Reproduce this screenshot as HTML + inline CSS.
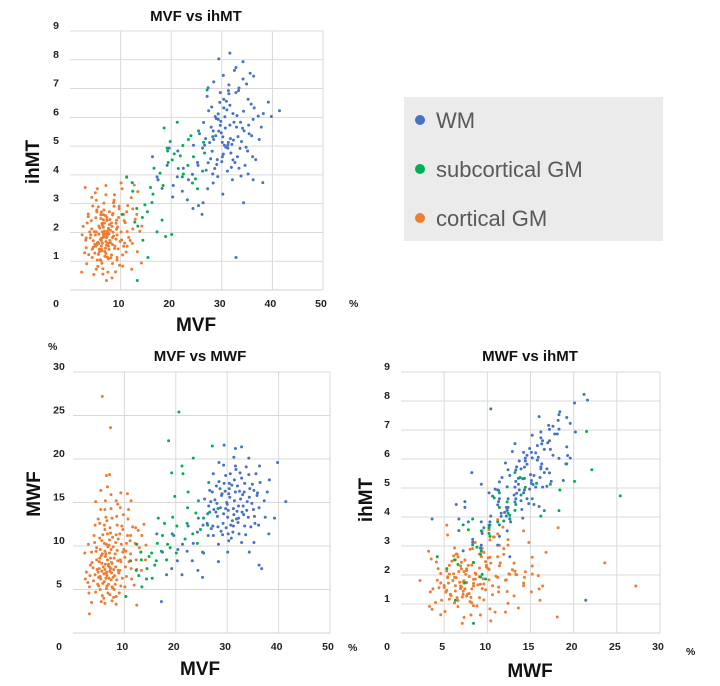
<!DOCTYPE html>
<html><head><meta charset="utf-8"><style>
body{margin:0;background:#fff;width:720px;height:686px;overflow:hidden;font-family:"Liberation Sans",sans-serif;position:relative}
svg{display:block}
.tk{font-size:10.5px;font-weight:bold;fill:#222}
.ttl{font-size:15px;font-weight:bold;fill:#111}
.ax{font-size:19px;font-weight:bold;fill:#111}
.lg{font-size:22px;fill:#595959}
</style></head><body>
<svg id="s" width="720" height="686">
<rect x="404" y="97" width="259" height="144" fill="#ebebeb"/>
<circle cx="420" cy="120" r="5" fill="#4472c4"/>
<text class="lg" x="436" y="128">WM</text>
<circle cx="420" cy="169" r="5" fill="#00b050"/>
<text class="lg" x="436" y="177">subcortical GM</text>
<circle cx="420" cy="218" r="5" fill="#ed7d31"/>
<text class="lg" x="436" y="226">cortical GM</text>
</svg>
<script>
// each point: [MVF, MWF, ihMT]
const corticalGM = [
[6.2,7.3,1.8],[7.4,6.1,2.04],[5.1,8.2,1.52],[8.3,7.6,2.21],[6.6,5.4,1.93],[7.1,9.2,1.68],[4.3,6.7,2.12],[9.2,8.4,2.43],[5.6,7.1,1.24],[6.1,10.3,2.61],
[7.7,5.2,1.41],[8.6,9.5,1.87],[3.4,7.8,2.33],[10.1,8.7,2.02],[6.4,6.3,1.63],[5.3,9.6,2.78],[7.2,12.1,1.82],[8.1,6.6,1.12],[4.6,8.4,1.71],[9.4,10.2,2.19],
[6.8,4.6,2.05],[7.3,7.4,2.52],[5.8,5.7,1.33],[8.4,11.3,1.58],[11.2,9.1,2.72],[6.3,8.8,0.93],[3.2,5.3,1.47],[7.6,13.2,2.13],[9.1,7.2,1.77],[4.2,10.4,2.41],
[10.4,6.5,1.22],[6.7,11.4,3.02],[5.4,6.2,1.04],[8.7,8.3,2.91],[7.2,4.4,1.56],[2.4,6.2,1.92],[12.1,10.3,3.21],[6.4,9.1,2.24],[9.5,12.3,1.43],[5.2,12.6,2.02],
[7.5,8.1,0.62],[4.4,4.7,1.13],[8.2,5.6,2.33],[10.6,11.2,2.63],[6.2,14.2,1.72],[11.3,7.4,1.52],[3.6,9.3,2.64],[7.1,10.7,3.31],[5.5,3.6,0.82],[9.3,5.4,1.91],
[6.9,7.7,1.34],[8.5,13.4,2.01],[4.7,7.3,0.54],[10.3,9.4,3.52],[7.8,6.4,2.72],[5.6,10.6,1.63],[12.4,7.3,2.12],[6.1,12.4,1.02],[9.7,9.3,2.82],[3.3,6.6,0.91],
[8.8,7.2,1.44],[7.3,11.5,2.42],[5.2,8.6,3.12],[11.6,12.2,1.83],[6.5,5.1,0.74],[4.1,11.2,1.92],[9.6,6.3,2.52],[7.4,9.6,1.14],[10.2,7.6,1.74],[5.7,4.3,2.22],
[6.3,15.2,2.31],[8.3,10.4,0.42],[13.2,9.3,2.63],[7.6,3.7,1.52],[4.5,9.4,2.92],[9.2,14.4,2.11],[6.6,6.6,2.62],[11.1,10.6,1.32],[5.8,11.3,1.42],[8.4,4.2,1.82],
[3.7,8.1,1.23],[7.2,7.1,0.33],[10.7,13.1,2.41],[6.2,9.4,1.53],[12.3,8.4,1.62],[5.1,7.4,2.51],[8.6,12.4,3.03],[9.3,8.2,1.04],[4.8,5.6,2.03],[7.4,14.3,1.92],
[6.5,10.2,1.83],[11.4,6.2,2.93],[5.3,6.5,2.72],[8.2,9.1,1.22],[13.4,11.2,3.42],[7.6,5.3,2.14],[3.1,4.6,1.73],[10.4,10.3,0.83],[6.4,13.3,2.02],[9.1,11.4,2.32],
[14.2,10.1,2.22],[5.4,16.4,1.62],[7.1,18.2,3.63],[8.4,15.2,2.61],[2.3,9.2,0.62],[12.2,12.1,0.72],[10.1,5.3,3.72],[6.2,3.4,1.42],[4.3,12.4,3.22],[11.3,15.2,2.03],
[7.3,23.6,2.42],[5.7,27.2,1.62],[9.3,16.1,1.13],[13.3,7.2,1.33],[3.2,2.2,1.81],[12.4,3.2,2.82],[8.4,3.3,0.92],[5.4,14.2,3.52],[11.2,11.2,3.91],[14.1,8.4,0.94],
[6.0,6.8,1.75],[6.9,7.9,1.95],[7.5,6.9,1.62],[5.9,7.6,2.15],[6.7,8.4,1.85],[7.9,7.3,1.72],[6.4,6.9,2.31],[5.5,8.9,1.66],[7.0,6.3,1.45],[8.0,8.6,2.07],
[6.3,7.9,1.36],[5.0,6.4,1.91],[7.8,9.9,2.27],[6.6,7.0,2.44],[4.9,7.0,1.59],[7.6,8.0,1.08],[8.9,6.9,1.53],[6.1,5.9,2.48],[5.7,9.1,1.94],[7.1,7.6,1.27],
[4.0,6.0,1.81],[9.9,9.6,1.69],[6.8,9.9,2.33],[5.3,5.0,1.57],[8.5,6.1,2.66],[7.3,8.6,1.86],[3.9,7.5,2.02],[6.9,5.6,1.17],[5.6,8.0,2.89],[7.7,11.0,1.96],
[2.9,5.8,1.29],[10.9,8.2,2.34],[6.2,11.9,2.71],[4.6,9.8,1.49],[8.0,5.0,1.64],[7.0,10.1,2.59],[9.7,11.9,2.91],[6.0,4.0,1.05],[5.2,10.9,0.72],[12.9,9.8,2.46],
[8.8,10.8,3.31],[4.9,13.1,1.28],[7.4,15.9,1.98],[6.6,12.9,2.18],[3.6,3.5,2.55],[10.8,14.2,1.63],[9.0,4.6,0.63],[5.0,5.4,3.38],[7.9,4.1,2.45],[6.7,16.8,2.78],
[11.9,5.5,1.72],[4.4,15.1,1.42],[8.7,14.8,3.12],[10.6,16.0,1.52],[2.6,7.0,2.21],[13.8,12.5,2.04],[6.5,18.1,0.55],[3.0,10.2,3.56],[9.8,13.6,0.86],[12.7,11.8,3.65]
];
const whiteMatter = [
[30.2,14.1,5.32],[32.4,16.3,5.83],[28.1,13.4,4.82],[34.3,15.6,6.21],[31.2,12.3,5.04],[29.4,17.2,5.52],[33.1,14.6,4.63],[27.3,11.2,4.42],[35.2,16.4,6.63],[30.6,18.3,6.02],
[26.2,13.7,4.93],[32.3,11.4,5.21],[31.4,15.2,6.82],[28.6,16.6,4.22],[34.1,13.3,5.62],[29.2,12.6,3.94],[33.4,17.2,7.02],[30.3,10.6,4.72],[36.2,14.4,5.93],[27.6,15.3,5.12],
[25.3,12.4,4.33],[31.6,19.2,6.42],[32.2,13.2,4.52],[29.7,14.3,5.72],[35.4,12.6,5.43],[28.3,10.2,3.72],[30.4,16.6,6.33],[33.6,11.3,4.92],[26.4,14.6,5.82],[34.2,18.2,7.33],
[31.3,13.6,5.13],[24.2,11.6,4.02],[29.3,19.3,6.12],[32.6,15.4,4.43],[37.2,15.2,6.04],[27.2,12.3,3.52],[30.7,12.4,5.63],[33.3,16.2,6.93],[28.4,17.4,5.23],[35.1,14.2,4.83],
[23.4,10.3,3.83],[31.1,11.6,4.13],[29.6,16.3,6.52],[34.6,12.2,4.33],[26.6,16.4,5.03],[32.5,18.4,7.63],[30.1,13.3,4.63],[36.4,17.3,6.33],[27.4,14.2,6.23],[33.2,13.6,5.33],
[25.6,15.4,5.43],[31.4,17.6,7.13],[28.2,12.2,4.03],[34.4,16.6,5.53],[22.2,9.4,3.43],[30.5,15.6,5.03],[32.1,12.7,3.83],[29.1,11.3,4.53],[37.4,13.3,5.23],[26.3,11.2,3.03],
[35.6,18.3,7.53],[28.7,14.4,6.03],[31.2,14.3,4.93],[24.4,13.2,5.03],[33.7,19.1,5.83],[30.2,11.4,3.33],[27.1,16.2,6.73],[36.1,12.4,4.63],[29.3,13.7,5.93],[32.2,14.6,6.13],
[20.3,8.3,3.23],[34.2,20.1,7.93],[25.4,9.2,2.93],[38.2,17.6,6.13],[31.6,16.2,5.73],[28.4,19.6,7.23],[33.4,12.3,4.23],[26.1,12.6,2.63],[30.4,17.2,6.63],[35.3,13.4,5.73],
[19.2,7.4,4.33],[17.4,9.3,3.83],[21.3,10.2,4.83],[18.2,6.7,3.53],[22.4,12.3,4.23],[16.3,11.4,4.63],[20.4,9.6,3.63],[23.2,8.3,3.13],[19.6,11.2,4.93],[24.3,7.2,2.83],
[39.2,13.2,6.53],[41.4,15.1,6.23],[39.8,19.6,6.03],[38.1,11.4,3.73],[36.2,7.8,3.83],[31.6,21.2,8.23],[29.4,21.6,8.03],[32.8,10.4,7.73],[34.3,9.3,3.03],[32.8,21.4,1.13],
[27.3,18.3,7.03],[31.3,20.2,6.93],[36.3,19.2,7.43],[25.2,6.4,4.43],[21.2,6.7,3.93],[17.2,3.6,3.93],[30.1,9.3,5.13],[28.3,8.2,5.53],[35.2,10.4,4.03],[36.7,7.4,4.53],
[29.9,15.0,5.46],[31.8,13.1,4.76],[28.9,15.8,5.96],[33.9,15.1,5.16],[30.9,17.0,6.56],[27.8,13.9,4.56],[32.9,13.9,5.66],[29.0,16.0,4.36],[34.8,14.9,4.96],[31.0,12.9,6.26],
[26.9,12.0,4.16],[32.8,17.8,6.86],[28.8,11.7,5.36],[30.0,14.8,4.46],[35.8,15.8,6.46],[27.9,16.9,5.66],[33.0,15.9,6.06],[31.9,14.0,4.26],[29.8,12.1,5.86],[34.9,17.1,7.16],
[30.8,10.9,4.96],[26.8,15.1,5.26],[32.0,16.9,5.06],[28.0,14.9,6.36],[33.8,14.1,3.96],[31.7,18.8,5.26],[29.7,18.1,6.86],[35.9,16.1,5.36],[30.3,16.0,7.46],[37.8,16.2,5.66]
];
const subcorticalGM = [
[20.2,12.3,4.52],[18.4,10.2,3.63],[22.3,14.4,5.02],[16.2,8.3,3.04],[25.4,13.2,5.53],[14.3,6.2,2.52],[21.4,18.3,4.22],[19.3,11.4,4.83],[24.2,10.3,3.72],[17.2,9.4,2.02],
[12.3,7.2,3.73],[23.4,20.1,5.23],[15.3,9.2,2.72],[26.2,12.4,4.13],[13.4,5.3,2.22],[22.4,16.2,4.03],[18.6,22.1,5.63],[20.1,9.2,1.93],[27.1,21.5,6.95],[16.4,10.3,3.33],
[11.2,8.3,3.93],[24.4,15.2,4.63],[19.4,13.3,4.43],[14.4,7.4,1.73],[25.2,9.3,3.52],[17.4,11.2,3.83],[21.2,19.2,5.83],[13.2,9.3,2.83],[23.3,11.4,4.33],[15.4,6.3,1.13],
[26.4,17.3,5.13],[18.2,8.4,2.43],[20.6,25.4,4.73],[12.4,10.2,3.43],[22.2,12.6,3.93],[10.3,4.2,2.63],[28.2,14.3,5.33],[16.6,13.2,4.23],[19.2,18.4,4.93],[13.3,8.4,0.33],
[21.8,10.8,4.66],[23.9,13.8,5.36],[17.8,12.6,4.06],[14.8,8.8,2.96],[24.8,11.9,3.86],[19.8,15.7,5.16],[12.8,6.6,2.36],[26.6,13.9,4.76],[18.9,9.8,1.86],[15.9,7.8,3.56]
];
const mvfTicks = [0,10,20,30,40,50];
const mwfTicks = [0,5,10,15,20,25,30];
const ihmtTicks = [1,2,3,4,5,6,7,8,9];

const NS='http://www.w3.org/2000/svg', svg=document.getElementById('s');
function mk(tag,attrs,txt){const e=document.createElementNS(NS,tag);for(const k in attrs)e.setAttribute(k,attrs[k]);if(txt!==undefined)e.textContent=txt;svg.appendChild(e);return e;}

function chart(o){
  const sx=v=>o.x0+(v-o.xmin)/(o.xmax-o.xmin)*(o.x1-o.x0);
  const sy=v=>o.y0-(v-o.ymin)/(o.ymax-o.ymin)*(o.y0-o.y1);
  o.xt.forEach(t=>{ if(t>o.xmin){const g=mk('line',{x1:sx(t),x2:sx(t),y1:o.y1,y2:o.y0,stroke:'#d9d9d9','stroke-width':1});
    
    }
    const l=mk('text',{class:'tk',x:t===0?sx(t)-14:sx(t)-2,y:o.y0+17,'text-anchor':'middle'},String(t));
    
    
  });
  o.yt.forEach(t=>{ if(t>o.ymin){const g=mk('line',{x1:o.x0,x2:o.x1,y1:sy(t),y2:sy(t),stroke:'#d9d9d9','stroke-width':1});
    
    
    const l=mk('text',{class:'tk',x:o.x0-14,y:sy(t)-2,'text-anchor':'middle'},String(t));
    
    }
  });
  const b=mk('line',{x1:o.x0,x2:o.x1,y1:o.y0,y2:o.y0,stroke:'#d0d0d0'});
  
  
  [[corticalGM,'#ed7d31','cortical'],[subcorticalGM,'#00b050','subcortical'],[whiteMatter,'#4472c4','wm']].forEach(([arr,c,n])=>{
    arr.forEach(p=>{const d=mk('circle',{cx:sx(p[o.xi]),cy:sy(p[o.yi]),r:1.5,fill:c});
      
      });
  });
}
chart({id:'mvf-ihmt',x0:70,x1:323,y0:290,y1:31,xmin:0,xmax:50,ymin:0,ymax:9,xi:0,yi:2,xt:mvfTicks,yt:ihmtTicks});
chart({id:'mvf-mwf',x0:73,x1:330,y0:633,y1:372,xmin:0,xmax:50,ymin:0,ymax:30,xi:0,yi:1,xt:mvfTicks,yt:mwfTicks});
chart({id:'mwf-ihmt',x0:401,x1:660,y0:633,y1:372,xmin:0,xmax:30,ymin:0,ymax:9,xi:1,yi:2,xt:[0,5,10,15,20,25,30],yt:ihmtTicks});
</script>
<svg width="720" height="686" style="position:absolute;left:0;top:0">
<text class="ttl" x="196" y="21" text-anchor="middle">MVF vs ihMT</text>
<text class="ax" transform="translate(39,162) rotate(-90)" text-anchor="middle">ihMT</text>
<text class="ax" x="196" y="331" text-anchor="middle">MVF</text>
<text class="tk" x="349" y="307">%</text>
<text class="ttl" x="200" y="361" text-anchor="middle">MVF vs MWF</text>
<text class="ax" transform="translate(40,494) rotate(-90)" text-anchor="middle">MWF</text>
<text class="ax" x="200" y="675" text-anchor="middle">MVF</text>
<text class="tk" x="48" y="350">%</text>
<text class="tk" x="348" y="651">%</text>
<text class="ttl" x="530" y="361" text-anchor="middle">MWF vs ihMT</text>
<text class="ax" transform="translate(372,500) rotate(-90)" text-anchor="middle">ihMT</text>
<text class="ax" x="530" y="677" text-anchor="middle">MWF</text>
<text class="tk" x="686" y="655">%</text>
</svg>
</body></html>
